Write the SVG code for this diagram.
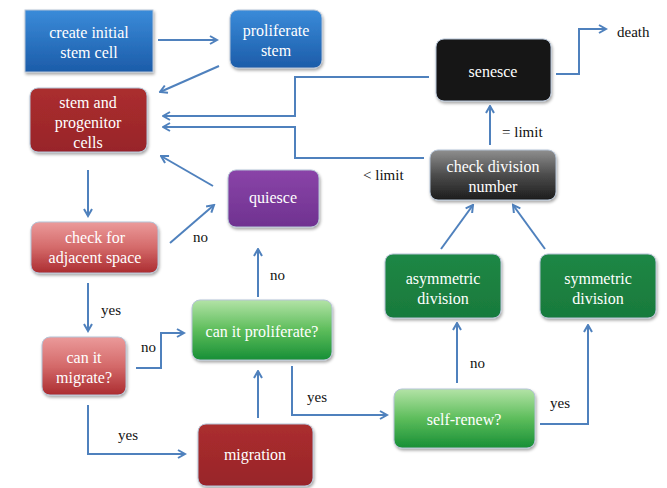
<svg xmlns="http://www.w3.org/2000/svg" width="667" height="488" viewBox="0 0 667 488">
<defs>
<linearGradient id="gBlue" x1="0" y1="0" x2="0" y2="1"><stop offset="0" stop-color="#3a8bd9"/><stop offset="1" stop-color="#1c5ca9"/></linearGradient>
<linearGradient id="gRed" x1="0" y1="0" x2="0" y2="1"><stop offset="0" stop-color="#ab2e2e"/><stop offset="1" stop-color="#98242a"/></linearGradient>
<linearGradient id="gPink" x1="0" y1="0" x2="0" y2="1"><stop offset="0" stop-color="#eb9a9a"/><stop offset="0.5" stop-color="#d46a6a"/><stop offset="1" stop-color="#ab2c30"/></linearGradient>
<linearGradient id="gGreen" x1="0" y1="0" x2="0" y2="1"><stop offset="0" stop-color="#b3e3a6"/><stop offset="0.5" stop-color="#5dbd5b"/><stop offset="1" stop-color="#178f36"/></linearGradient>
<linearGradient id="gDkGreen" x1="0" y1="0" x2="0" y2="1"><stop offset="0" stop-color="#1f8745"/><stop offset="1" stop-color="#187a3c"/></linearGradient>
<linearGradient id="gGray" x1="0" y1="0" x2="0" y2="1"><stop offset="0" stop-color="#8f8f8f"/><stop offset="0.5" stop-color="#4c4c4c"/><stop offset="1" stop-color="#1c1c1c"/></linearGradient>
<linearGradient id="gPurple" x1="0" y1="0" x2="0" y2="1"><stop offset="0" stop-color="#8a44a8"/><stop offset="1" stop-color="#6f3290"/></linearGradient>
<filter id="sh" x="-10%" y="-10%" width="130%" height="140%"><feDropShadow dx="1" dy="2" stdDeviation="1.5" flood-color="#000" flood-opacity="0.35"/></filter>
<marker id="arr" viewBox="0 0 10 10" refX="8.5" refY="5" markerWidth="10" markerHeight="10" markerUnits="userSpaceOnUse" orient="auto">
<path d="M1.5,1 L8.5,5 L1.5,9" fill="none" stroke="#4f81bd" stroke-width="2"/>
</marker>
</defs>
<style>
.box{filter:url(#sh);stroke:#b5c3d6;stroke-width:1}
text{font-family:'Liberation Serif','DejaVu Serif',serif}
.t{font-size:16px;fill:#fff;text-anchor:middle}
.lb{font-size:15px;fill:#111}
.c{fill:none;stroke:#4f81bd;stroke-width:2;marker-end:url(#arr)}
</style>
<rect width="667" height="488" fill="#fff"/>

<g id="connectors">
<path class="c" d="M158,40 L217,40"/>
<path class="c" d="M219,66 L160,92"/>
<path class="c" d="M429,77 L295,77 L295,116 L163,116"/>
<path class="c" d="M424,158 L295,158 L295,127 L163,127"/>
<path class="c" d="M490,145 L490,106"/>
<path class="c" d="M556,74 L579,74 L579,29 L606,29"/>
<path class="c" d="M88,170 L88,216"/>
<path class="c" d="M213,186 L161,156"/>
<path class="c" d="M170,243 L214,205"/>
<path class="c" d="M88,283 L88,331"/>
<path class="c" d="M258,297 L258,249"/>
<path class="c" d="M136,368 L161,368 L161,333 L184,333"/>
<path class="c" d="M88,405 L88,454 L185,454"/>
<path class="c" d="M258,418 L258,371"/>
<path class="c" d="M292,366 L292,415 L387,415"/>
<path class="c" d="M457,383 L457,323"/>
<path class="c" d="M540,424 L588,424 L588,325"/>
<path class="c" d="M441,249 L473,205"/>
<path class="c" d="M545,249 L513,205"/>
</g>

<g id="labels">
<text class="lb" x="617" y="37" font-size="16">death</text>
<text class="lb" x="502" y="137">= limit</text>
<text class="lb" x="363" y="180">&lt; limit</text>
<text class="lb" x="193" y="242">no</text>
<text class="lb" x="270" y="280">no</text>
<text class="lb" x="101" y="315">yes</text>
<text class="lb" x="141" y="352">no</text>
<text class="lb" x="118" y="440">yes</text>
<text class="lb" x="307" y="402">yes</text>
<text class="lb" x="470" y="368">no</text>
<text class="lb" x="550" y="408">yes</text>
</g>

<g id="nodes">
<g id="create">
<rect class="box" x="25" y="10" width="128" height="62" fill="url(#gBlue)" stroke="none"/>
<text class="t" x="89" y="38">create initial</text>
<text class="t" x="89" y="58">stem cell</text>
</g>
<g id="proliferate">
<rect class="box" x="230" y="10" width="92" height="58" rx="8" fill="url(#gBlue)"/>
<text class="t" x="276" y="36">proliferate</text>
<text class="t" x="276" y="56">stem</text>
</g>
<g id="stemprog">
<rect class="box" x="30" y="88" width="117" height="64" rx="8" fill="url(#gRed)"/>
<text class="t" x="88" y="108">stem and</text>
<text class="t" x="88" y="128">progenitor</text>
<text class="t" x="88" y="148">cells</text>
</g>
<g id="quiesce">
<rect class="box" x="228" y="170" width="91" height="57" rx="8" fill="url(#gPurple)"/>
<text class="t" x="273" y="203">quiesce</text>
</g>
<g id="adjacent">
<rect class="box" x="31" y="222" width="127" height="51" rx="8" fill="url(#gPink)"/>
<text class="t" x="95" y="243" fill="#fbe4e4">check for</text>
<text class="t" x="95" y="263">adjacent space</text>
</g>
<g id="migrate">
<rect class="box" x="42" y="337" width="84" height="58" rx="8" fill="url(#gPink)"/>
<text class="t" x="84" y="363">can it</text>
<text class="t" x="84" y="383">migrate?</text>
</g>
<g id="canproliferate">
<rect class="box" x="192" y="300" width="140" height="60" rx="8" fill="url(#gGreen)"/>
<text class="t" x="262" y="337">can it proliferate?</text>
</g>
<g id="migration">
<rect class="box" x="198" y="424" width="115" height="62" rx="8" fill="url(#gRed)"/>
<text class="t" x="255" y="460">migration</text>
</g>
<g id="selfrenew">
<rect class="box" x="394" y="389" width="141" height="59" rx="8" fill="url(#gGreen)"/>
<text class="t" x="464" y="425">self-renew?</text>
</g>
<g id="asymmetric">
<rect class="box" x="385" y="254" width="116" height="64" rx="8" fill="url(#gDkGreen)"/>
<text class="t" x="443" y="284">asymmetric</text>
<text class="t" x="443" y="304">division</text>
</g>
<g id="symmetric">
<rect class="box" x="540" y="254" width="116" height="64" rx="8" fill="url(#gDkGreen)"/>
<text class="t" x="598" y="284">symmetric</text>
<text class="t" x="598" y="304">division</text>
</g>
<g id="checkdivision">
<rect class="box" x="430" y="150" width="126" height="50" rx="8" fill="url(#gGray)"/>
<text class="t" x="493" y="172">check division</text>
<text class="t" x="493" y="192">number</text>
</g>
<g id="senesce">
<rect class="box" x="436" y="39" width="115" height="62" rx="8" fill="#141414"/>
<text class="t" x="493" y="77">senesce</text>
</g>
</g>
</svg>
